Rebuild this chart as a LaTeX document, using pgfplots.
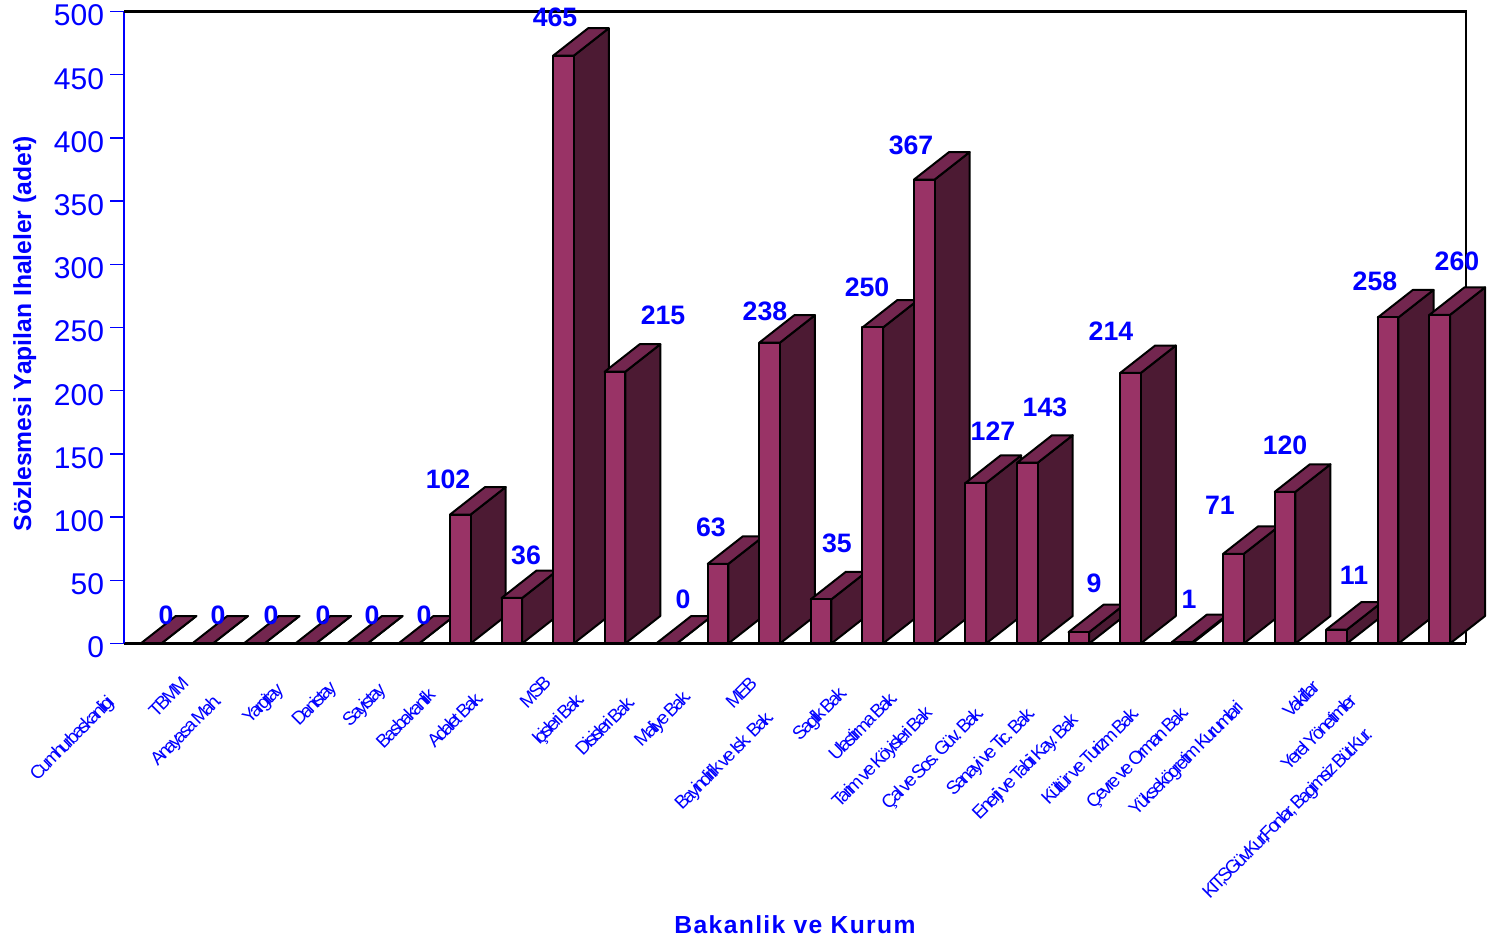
\documentclass[border=0pt]{standalone}
\usepackage{pgfplots}
\pgfplotsset{compat=1.18}
\usepackage{fontspec}
\setmainfont{Liberation Sans}
\newfontfamily\catfont[LetterSpace=-14,WordSpace=0.5]{Liberation Sans}
\newfontfamily\xlabfont[LetterSpace=5.5]{Liberation Sans}
\definecolor{fr}{HTML}{993366}
\definecolor{tp}{HTML}{73264F}
\definecolor{sd}{HTML}{4C1A33}
\def\bw{0.2}\def\dx{0.68}\def\dy{21.75}
\newcommand\B[2]{%
 \addplot[draw=black,line width=1.5pt,fill=sd,line join=round] coordinates {({#1+\bw},0) ({#1+\bw+\dx},\dy) ({#1+\bw+\dx},{#2+\dy}) ({#1+\bw},#2)} --cycle;
 \addplot[draw=black,line width=1.5pt,fill=tp,line join=round] coordinates {({#1-\bw},#2) ({#1+\bw},#2) ({#1+\bw+\dx},{#2+\dy}) ({#1-\bw+\dx},{#2+\dy})} --cycle;
 \addplot[draw=black,line width=1.5pt,fill=fr,line join=round] coordinates {({#1-\bw},0) ({#1+\bw},0) ({#1+\bw},#2) ({#1-\bw},#2)} --cycle;
}
\newcommand\V[3]{\node[font=\fontsize{20}{20}\bfseries\selectfont,text=blue,inner sep=0pt] at (axis cs:{(#1-151)/51.55},{(643.5-#2)/1.264}) {#3};}
% category label: index, right end x and y in picture pixels, text
\newcommand\Lb[4]{%
 \pgfmathsetlengthmacro\uu{((#2+10-(151+51.55*#1))+(643.5-#3))*0.5303pt}%
 \pgfmathsetlengthmacro\vv{((643.5-#3)-(#2+10-(151+51.55*#1)))*0.5303pt}%
 \makebox[0pt][r]{\raisebox{\vv}{#4}\hspace*{-\uu}}}
\begin{document}
\begin{tikzpicture}
\useasboundingbox (0,0) rectangle (1116pt,706.5pt);
\begin{axis}[
 at={(93pt,223.875pt)},anchor=south west,
 scale only axis,width=1006.5pt,height=474pt,
 clip=false,
 xmin=-0.524,xmax=25.51,ymin=0,ymax=500,
 axis x line*=bottom,axis y line*=left,
 x axis line style={black,line width=2pt,-},
 y axis line style={blue,line width=1.4pt,-},
 ytick={0,50,...,500},
 ytick style={blue,line width=1.1pt},
 tick align=outside,
 major tick length=10.5pt,
 yticklabel style={font=\fontsize{22.5}{22.5}\selectfont,text=blue,/pgf/number format/assume math mode=true,xshift=-1pt,yshift=-3pt},
 xtick={0,...,25},
 x tick style={draw=none},
 xticklabels={
  {\Lb{0}{113}{697}{Cumhurbaskanligi}},{\Lb{1}{187}{678}{TBMM}},{\Lb{2}{222}{697}{Anayasa Mah.}},
  {\Lb{3}{283}{685}{Yargitay}},{\Lb{4}{336}{683}{Danistay}},{\Lb{5}{385}{685}{Sayistay}},
  {\Lb{6}{434}{690}{Basbakanlik}},{\Lb{7}{482}{692}{Adalet Bak.}},{\Lb{8}{550}{678}{MSB}},
  {\Lb{9}{585}{695}{Içisleri Bak.}},{\Lb{10}{634}{697}{Disisleri Bak.}},{\Lb{11}{692}{693}{Maliye Bak.}},
  {\Lb{12}{756}{678}{MEB}},{\Lb{13}{775}{714}{Bayindirlik ve Isk. Bak.}},{\Lb{14}{847}{688}{Saglik Bak.}},
  {\Lb{15}{897}{693}{Ulastirma Bak.}},{\Lb{16}{933}{710}{Tarim ve Köyisleri Bak}},{\Lb{17}{985}{710}{Çal ve Sos. Güv. Bak.}},
  {\Lb{18}{1036}{710}{Sanayi ve Tic. Bak.}},{\Lb{19}{1078}{716}{Enerji ve Tabii Kay. Bak}},{\Lb{20}{1138}{708}{Kültür ve Turizm Bak.}},
  {\Lb{21}{1189}{708}{Çevre ve Orman Bak.}},{\Lb{22}{1242}{703}{Yüksekögretim Kurumlari}},{\Lb{23}{1318}{682}{Vakiflar}},
  {\Lb{24}{1355}{695}{Yerel Yönetimler}},{\Lb{25}{1372}{730}{KIT,SGüv.Kur,Fonlar, Bagimsiz Büt.Kur.}}},
 xticklabel style={rotate=45,anchor=center,inner sep=0pt,outer sep=0pt,text=blue,font=\catfont\fontsize{14}{14}\selectfont},
 xlabel={Bakanlik ve Kurum},
 ylabel={Sözlesmesi Yapilan Ihaleler (adet)},
 xlabel style={at={(axis description cs:0.5,-0.445)},anchor=center,font=\xlabfont\fontsize{18.5}{18.5}\bfseries\selectfont,text=blue},
 ylabel style={at={(axis description cs:-0.074,0.49)},anchor=center,font=\fontsize{18.5}{18.5}\bfseries\selectfont,text=blue},
]
\addplot[black,line width=2pt] coordinates {(-0.524,500) (25.51,500) (25.51,0)};
\B{0}{0}\B{1}{0}\B{2}{0}\B{3}{0}\B{4}{0}\B{5}{0}\B{6}{102}\B{7}{36}\B{8}{465}\B{9}{215}\B{10}{0}\B{11}{63}\B{12}{238}
\B{13}{35}\B{14}{250}\B{15}{367}\B{16}{127}\B{17}{143}\B{18}{9}\B{19}{214}\B{20}{1}\B{21}{71}\B{22}{120}\B{23}{11}\B{24}{258}\B{25}{260}
\V{166}{615}{0}\V{218}{615}{0}\V{271}{615}{0}\V{323}{615}{0}\V{372}{615}{0}\V{424}{615}{0}
\V{448}{479}{102}\V{526}{555}{36}\V{555}{17}{465}\V{663}{315}{215}\V{683}{599}{0}\V{711}{527}{63}\V{765}{311}{238}
\V{837}{543}{35}\V{867}{287}{250}\V{911}{145}{367}\V{993}{431}{127}\V{1045}{407}{143}\V{1094}{583}{9}\V{1111}{331}{214}
\V{1189}{599}{1}\V{1220}{505}{71}\V{1285}{445}{120}\V{1354}{575}{11}\V{1375}{281}{258}\V{1457}{261}{260}
\end{axis}
\end{tikzpicture}
\end{document}
